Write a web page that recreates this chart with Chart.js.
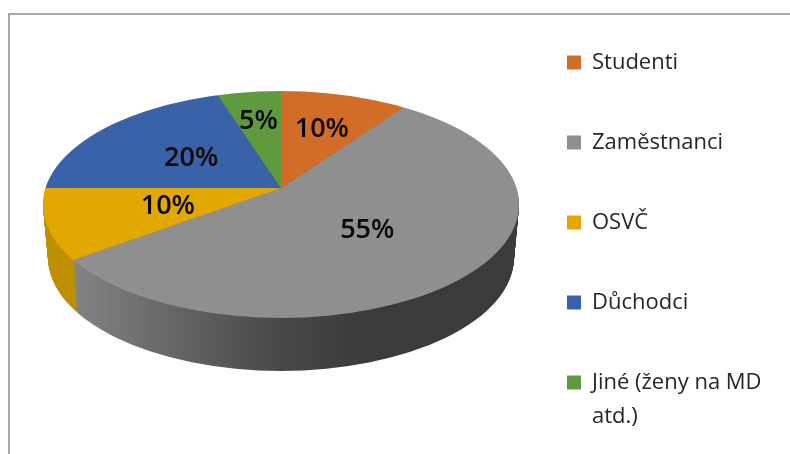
<!DOCTYPE html>
<html><head><meta charset="utf-8">
<script src="https://cdn.jsdelivr.net/npm/chart.js@4"></script>
<style>
html,body{margin:0;padding:0;background:#fff;overflow:hidden}
#wrap{position:relative;width:790px;height:454px;overflow:hidden}
#frame{position:absolute;left:8px;top:13px;width:790px;height:460px;border-left:2px solid #a9a9a9;border-top:2px solid #a9a9a9;box-sizing:border-box}
canvas{position:absolute;left:0;top:0}
</style></head><body>
<div id="wrap"><div id="frame"></div><canvas id="c" width="790" height="560"></canvas></div>
<script>
const categories = ["Studenti","Zaměstnanci","OSVČ","Důchodci",["Jiné (ženy na MD","atd.)"]];
const shares = [10,55,10,20,5];
const topColors = ["#D26C27","#8F8F8F","#E0A800","#3A62A9","#5F9A3E"];
const sideColors = ["#A85620","#6b6b6b","#BF9000","#2E4E87","#4C7B32"];
const labelRadii = [132,122,119,111,144];

const apex = {x:281,y:188}, ell = {x:281,y:204.5,rx:238,ry:113.5};
const squash = ell.ry/ell.rx, depth = 53, shrink = 5;
const legendLeft = 567, legendFirstCentre = 62.5;

function enterPie(ctx,arc){ ctx.translate(apex.x,apex.y); ctx.scale(1,squash); ctx.translate(-arc.x,-arc.y); }
function clipEll(ctx,dy,drx){ ctx.beginPath(); ctx.ellipse(ell.x,ell.y+dy,ell.rx-drx,ell.ry,0,0,Math.PI*2); ctx.clip(); }

const pie3d = {
  id:'pie3d',
  afterLayout(chart){
    const lg = chart.legend, lab = lg.options.labels, p = lab.padding, fs = lab.font.size;
    lg.left = legendLeft - p; lg.right = 790;
    lg.top = legendFirstCentre - fs/2 - p;
  },
  beforeDatasetsDraw(chart){
    const ctx = chart.ctx, arcs = chart.getDatasetMeta(0).data, a0 = arcs[0];
    const toLocal = px => a0.x + (px-apex.x);
    const grad = ctx.createLinearGradient(toLocal(75),0,toLocal(360),0);
    grad.addColorStop(0,'#838383'); grad.addColorStop(0.35,'#656565'); grad.addColorStop(0.72,'#484848'); grad.addColorStop(1,'#3b3b3b');
    for(let t=depth;t>=1;t--){
      ctx.save();
      clipEll(ctx,t,shrink*t/depth);
      ctx.translate(0,t); enterPie(ctx,a0);
      arcs.forEach((el,i)=>{
        const o = el.options;
        el.options = Object.assign({},o,{backgroundColor:i===1?grad:sideColors[i],borderWidth:0});
        el.draw(ctx);
        el.options = o;
      });
      ctx.restore();
    }
    ctx.save(); clipEll(ctx,0,0); enterPie(ctx,a0);
    arcs.forEach(el=>el.draw(ctx));
    ctx.restore();
    return false;
  },
  afterDraw(chart){
    const ctx = chart.ctx, arcs = chart.getDatasetMeta(0).data;
    ctx.save();
    ctx.font = '600 27px "Open Sans"'; ctx.fillStyle='#0a0a0a'; ctx.textAlign='center'; ctx.textBaseline='middle';
    arcs.forEach((el,i)=>{
      const mid=(el.startAngle+el.endAngle)/2, r=labelRadii[i];
      ctx.fillText(shares[i]+'%',apex.x+Math.cos(mid)*r,apex.y+1+Math.sin(mid)*r*squash);
    });
    ctx.restore();
  }
};

new Chart(document.getElementById('c'),{
  type:'pie',
  data:{labels:categories,datasets:[{data:shares,backgroundColor:topColors,borderWidth:0,radius:290}]},
  options:{
    responsive:false,animation:false,
    plugins:{
      tooltip:{enabled:false},
      legend:{position:'right',align:'start',labels:{boxWidth:14,boxHeight:14,padding:58,color:'#262626',font:{family:'"Open Sans"',size:22,lineHeight:1.55}}}
    }
  },
  plugins:[pie3d]
});
</script>
</body></html>
